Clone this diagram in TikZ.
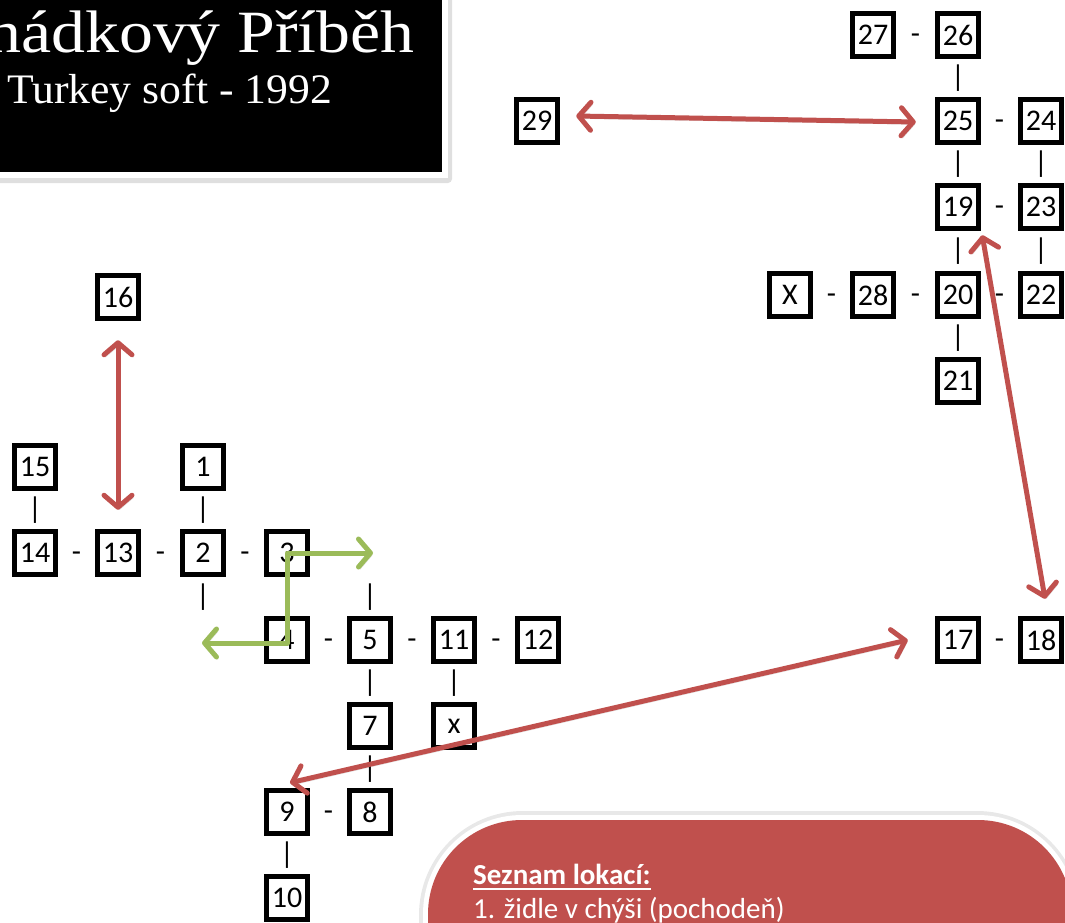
\documentclass[tikz,border=0pt]{standalone}
\usepackage{fontspec}
\setmainfont{Carlito}
\newfontfamily\numfont{Carlito}
\newfontfamily\titlefont[FakeStretch=1.13]{Liberation Serif}
\newfontfamily\subfont[FakeStretch=1.04]{Liberation Serif}
\usetikzlibrary{arrows.meta,calc}
\definecolor{rd}{HTML}{C0504D}
\definecolor{gr}{HTML}{9BBB59}
\begin{document}
\begin{tikzpicture}[x=1pt,y=-1pt,
  nb/.style={draw=black,line width=5.5pt,fill=white,minimum width=41pt,minimum height=43pt,inner sep=0pt,font=\numfont\fontsize{30}{33}\selectfont},
  lk/.style={inner sep=0pt,font=\numfont\fontsize{30}{33}\selectfont},
  arr/.style={line width=5pt,line cap=round,line join=round,
    arrows={Straight Barb[length=12pt,width=28pt,round]-Straight Barb[length=12pt,width=28pt,round]},
    preaction={draw=black,opacity=0.15,transform canvas={xshift=1.5pt,yshift=-2.5pt}}},
  redarr/.style={arr,draw=rd},
  grarr/.style={arr,draw=gr}]
\useasboundingbox (0,0) rectangle (1065,922);
\clip (0,0) rectangle (1065,922);
% title box
\fill[gray!25,rounded corners=4pt] (-20,-20) rectangle (452,183);
\fill[white] (-20,-20) rectangle (448,178);
\fill[black] (-20,-20) rectangle (442,172);
\node[anchor=base east,text=white,inner sep=0pt,font=\titlefont\fontsize{60}{64}\selectfont] (title) at (415,52) {Pohádkový Příběh};
\node[anchor=base west,text=white,inner sep=0pt,font=\subfont\fontsize{42}{46}\selectfont] (sub) at (7,103) {Turkey soft - 1992};
% list box
\fill[gray!18,rounded corners=104pt] (419,811) rectangle (1081,1040);
\fill[white,rounded corners=99pt] (423,815) rectangle (1077,1035);
\fill[rd,rounded corners=94pt] (428,820) rectangle (1072,1030);
\node[anchor=base west,text=white,inner sep=0pt,font=\fontsize{29}{35}\selectfont\bfseries] (list1) at (473,884) {Seznam lokací:};
\draw[white,line width=2.5pt] ($(list1.base west)+(0,5)$) -- ($(list1.base east)+(0,5)$);
\node[anchor=base west,text=white,inner sep=0pt,font=\fontsize{29}{35}\selectfont] (list2) at (473,918) {1. židle v chýši (pochodeň)};
% left cluster
\node[nb] (n16) at (118,297) {16};
\node[nb] (n15) at (35,467) {15};
\node[nb] (n1) at (203,467) {1};
\node[nb] (n14) at (35,553) {14};
\node[nb] (n13) at (118,553) {13};
\node[nb] (n2) at (203,553) {2};
\node[nb] (n3) at (287,553) {3};
\node[nb] (n4) at (287,640) {4};
\node[nb] (n5) at (370,640) {5};
\node[nb] (n11) at (454,640) {11};
\node[nb] (n12) at (538,640) {12};
\node[nb] (n7) at (370,726) {7};
\node[nb] (nxs) at (454,726) {x};
\node[nb] (n9) at (287,812) {9};
\node[nb] (n8) at (370,812) {8};
\node[nb] (n10) at (287,898) {10};
% right cluster
\node[nb] (n27) at (873,35) {27};
\node[nb] (n26) at (958,35) {26};
\node[nb] (n29) at (537,121) {29};
\node[nb] (n25) at (958,121) {25};
\node[nb] (n24) at (1041,121) {24};
\node[nb] (n19) at (958,207) {19};
\node[nb] (n23) at (1041,207) {23};
\node[nb] (nX) at (790,295) {X};
\node[nb] (n28) at (873,295) {28};
\node[nb] (n20) at (958,295) {20};
\node[nb] (n22) at (1041,295) {22};
\node[nb] (n21) at (958,381) {21};
\node[nb] (n17) at (958,640) {17};
\node[nb] (n18) at (1041,640) {18};
% hyphen links
\foreach \a/\b in {n14/n13,n13/n2,n2/n3,n4/n5,n5/n11,n11/n12,n9/n8,n27/n26,n25/n24,n19/n23,nX/n28,n28/n20,n20/n22,n17/n18}
  \path (\a) -- node[lk,yshift=-4pt] {-} (\b);
% bar links
\foreach \a/\b in {n15/n14,n1/n2,n5/n7,n11/nxs,n7/n8,n9/n10,n26/n25,n25/n19,n24/n23,n19/n20,n23/n22,n20/n21}
  \path (\a) -- node[lk] {|} (\b);
\node[lk] (bar2) at (203,597) {|};
\node[lk] (bar5) at (370,597) {|};
% green arrows
\draw[grarr] ($(n4)+(-85,3)$) -- ($(n4)+(0,3)$) -- (n3.center) -- ($(n3)+(86,0)$);
% red arrows
\draw[redarr] ($(n29.east)+(16,-5)$) -- ($(n25.west)+(-19,1)$);
\draw[redarr] ($(n16.south)+(0,19)$) -- ($(n13.north)+(0,-19)$);
\draw[redarr] ($(n19.south east)+(1,4)$) -- ($(n18.north)+(4,-17)$);
\draw[redarr] ($(n9.north)+(3,-5)$) -- ($(n17.west)+(-27,0)$);
\end{tikzpicture}
\end{document}
